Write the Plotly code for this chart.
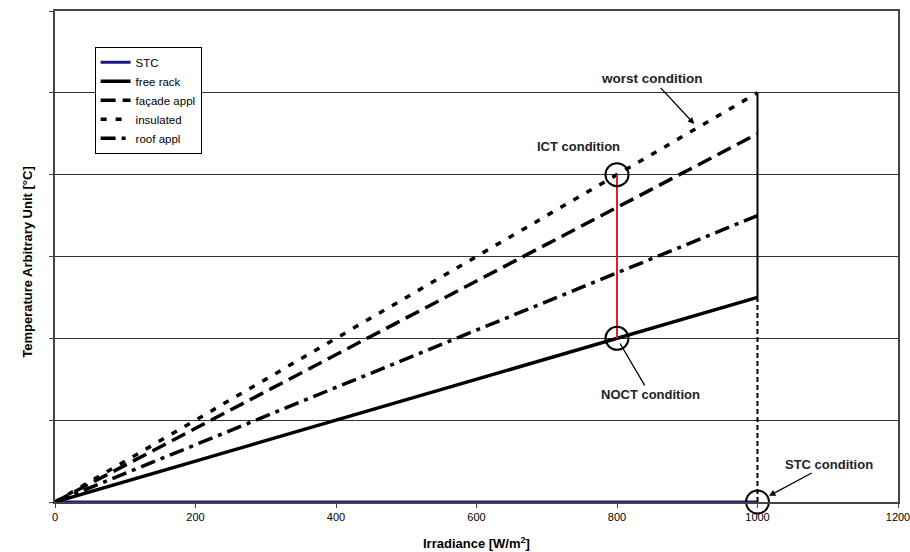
import plotly.graph_objects as go

# Data
irradiance = [0, 1000]
stc = [0, 0]
free_rack = [0, 2.5]
facade_appl = [0, 4.5]
insulated = [0, 5.0]
roof_appl = [0, 3.5]

x_ticks = [0, 200, 400, 600, 800, 1000, 1200]
y_grid = [0, 1, 2, 3, 4, 5, 6]

noct_x = 800
noct_y = free_rack[1] * noct_x / irradiance[1]
ict_y = insulated[1] * noct_x / irradiance[1]
stc_x = 1000

FONT = "Liberation Sans, Arial, sans-serif"

fig = go.Figure()

fig.add_trace(go.Scatter(x=irradiance, y=stc, mode="lines", name="STC",
                         line=dict(color="#1a1a80", width=3)))
fig.add_trace(go.Scatter(x=irradiance, y=free_rack, mode="lines", name="free rack",
                         line=dict(color="black", width=3.5)))
fig.add_trace(go.Scatter(x=irradiance, y=facade_appl, mode="lines", name="façade appl",
                         line=dict(color="black", width=3.5, dash="15px,7px")))
fig.add_trace(go.Scatter(x=irradiance, y=insulated, mode="lines", name="insulated",
                         line=dict(color="black", width=3.5, dash="6px,9px")))
fig.add_trace(go.Scatter(x=irradiance, y=roof_appl, mode="lines", name="roof appl",
                         line=dict(color="black", width=3.5, dash="15px,6px,4px,6px")))

# vertical lines at 1000
fig.add_trace(go.Scatter(x=[stc_x, stc_x], y=[free_rack[1], insulated[1]], mode="lines",
                         line=dict(color="black", width=2), showlegend=False, hoverinfo="skip"))
fig.add_trace(go.Scatter(x=[stc_x, stc_x], y=[0, free_rack[1]], mode="lines",
                         line=dict(color="black", width=2, dash="5px,3px"), showlegend=False, hoverinfo="skip"))
# red ICT-NOCT line
fig.add_trace(go.Scatter(x=[noct_x, noct_x], y=[noct_y, ict_y], mode="lines",
                         line=dict(color="#e02020", width=2), showlegend=False, hoverinfo="skip"))
# circles
fig.add_trace(go.Scatter(x=[noct_x, noct_x, stc_x], y=[ict_y, noct_y, 0], mode="markers",
                         marker=dict(symbol="circle-open", size=23, color="black", line=dict(width=2)),
                         showlegend=False, hoverinfo="skip", cliponaxis=False))

afont = dict(family=FONT, size=13, color="#222")
fig.add_annotation(x=910, y=4.62, ax=-42, ay=-45, text="<b>worst condition</b>", showarrow=True,
                   arrowhead=2, arrowsize=1, arrowwidth=1.3, arrowcolor="black",
                   font=dict(family=FONT, size=13.5, color="#222"),
                   axref="pixel", ayref="pixel", standoff=0)
fig.add_annotation(x=noct_x, y=ict_y, text="<b>ICT condition</b>", showarrow=False,
                   xshift=-39, yshift=28, font=afont)
fig.add_annotation(x=noct_x, y=noct_y, ax=33, ay=56, text="<b>NOCT condition</b>", showarrow=True,
                   arrowhead=0, arrowwidth=1.3, arrowcolor="black", font=afont,
                   axref="pixel", ayref="pixel", standoff=6)
fig.add_annotation(x=stc_x, y=0, ax=71, ay=-38, text="<b>STC condition</b>", showarrow=True,
                   arrowhead=2, arrowsize=1, arrowwidth=1.3, arrowcolor="black", font=afont,
                   axref="pixel", ayref="pixel", standoff=13)

# axis titles
fig.add_annotation(x=0.5, y=-0.063, xref="paper", yref="paper", yanchor="top",
                   text="<b>Irradiance [W/m<sup>2</sup>]</b>", showarrow=False,
                   font=dict(family=FONT, size=13, color="black"))
fig.add_annotation(x=-0.044, y=0.49, xref="paper", yref="paper", textangle=-90,
                   text="<b>Temperature Arbitrary Unit [°C]</b>", showarrow=False,
                   font=dict(family=FONT, size=13, color="black"))

fig.update_layout(
    width=910, height=552,
    margin=dict(l=55, r=12, t=11, b=50, autoexpand=False),
    paper_bgcolor="white", plot_bgcolor="white",
    font=dict(family=FONT, size=11, color="black"),
    showlegend=True,
    legend=dict(x=0.047, y=0.927, xanchor="left", yanchor="top",
                bgcolor="white", bordercolor="black", borderwidth=1,
                font=dict(family=FONT, size=11.5), tracegroupgap=0,
                itemwidth=30),
    xaxis=dict(range=[0, 1200], tickvals=x_ticks, ticks="outside", ticklen=4,
               showgrid=False, zeroline=False, showline=True, linecolor="#444",
               linewidth=1.5, mirror=True, automargin=False, ticklabeloverflow="allow"),
    yaxis=dict(range=[0, 6], tickvals=y_grid, showticklabels=False, ticks="outside",
               ticklen=4, showgrid=True, gridcolor="#333", gridwidth=1,
               zeroline=False, showline=True, linecolor="#444", linewidth=1.5, mirror=True,
               automargin=False),
)

# remove the page's default body margin so the figure fills the window exactly
fig.write_html("out.html",
               config={"displayModeBar": False},
               post_script="document.body.style.margin='0';document.body.style.overflow='hidden';")
